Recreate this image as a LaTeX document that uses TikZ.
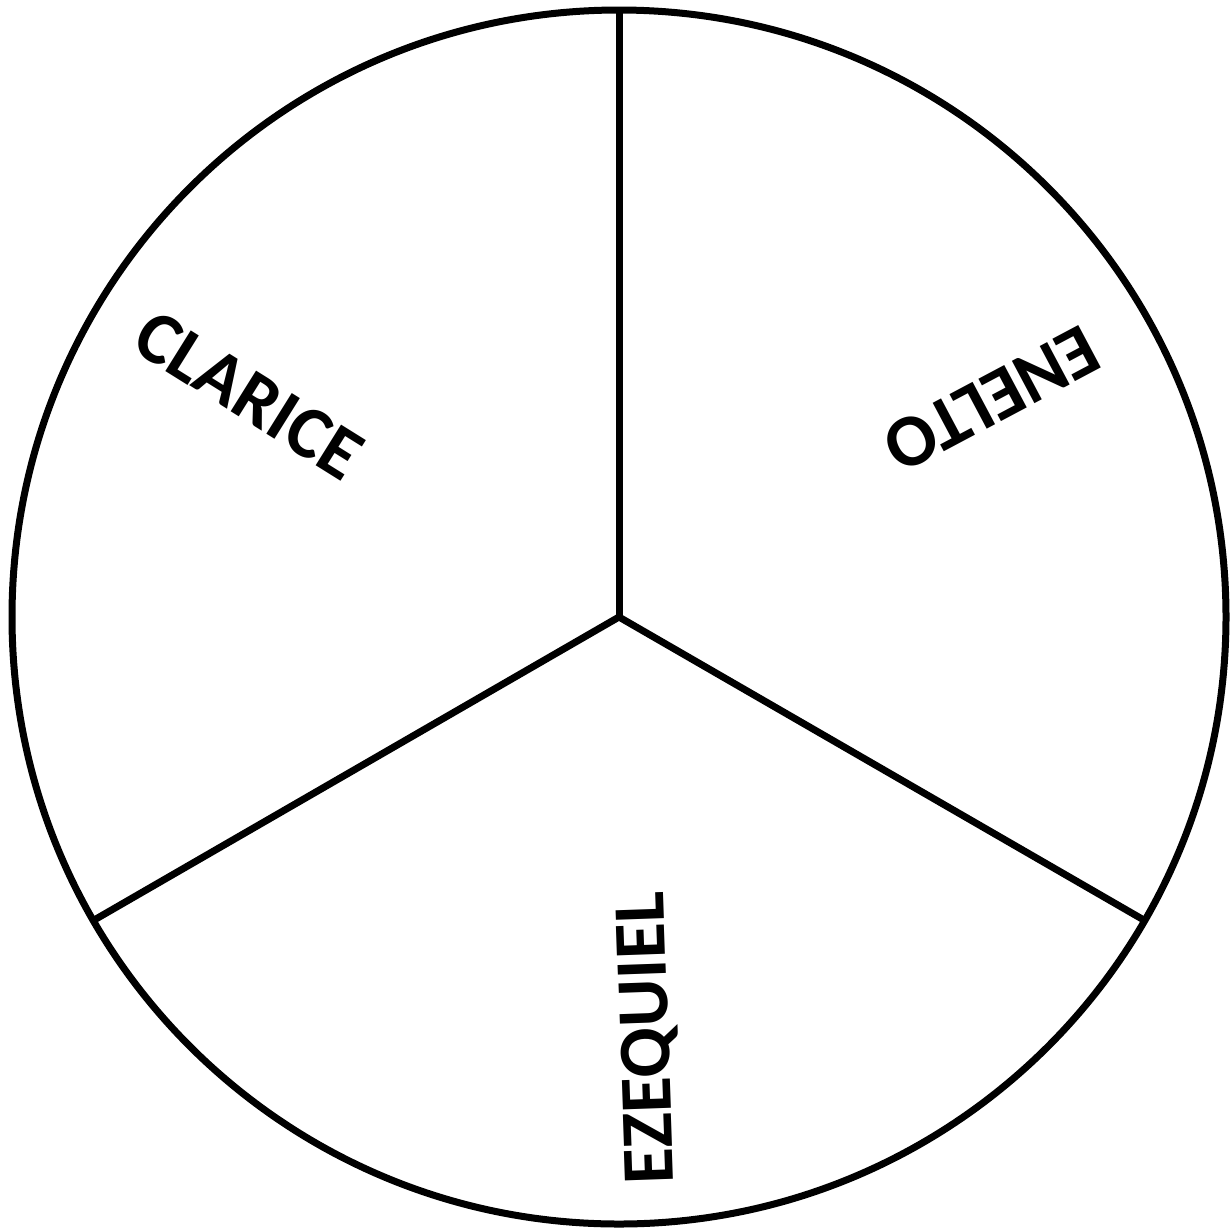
\documentclass[tikz,border=0pt]{standalone}
\usepackage{fontspec}
\setmainfont{Carlito}
\begin{document}
\begin{tikzpicture}[x=1pt,y=-1pt,
  edge/.style={line width=7pt,black},
  lbl/.style={font=\fontsize{74}{74}\selectfont\bfseries,inner sep=0pt}]
\useasboundingbox (0,0) rectangle (1231,1227);
\coordinate (c) at (619,617);
\coordinate (t) at (619,10);
\coordinate (ll) at (93.3,920.5);
\coordinate (rr) at (1144.7,920.5);
\draw[edge] (c) circle[radius=607];
\draw[edge] (c) -- (t);
\draw[edge] (c) -- (ll);
\draw[edge] (c) -- (rr);
\node[lbl,rotate=-32] (clarice) at (249,395) {CLARICE};
\node[lbl,rotate=208] (enelto) at (992,399) {ENELTO};
\node[lbl,rotate=92] (ezequiel) at (649,1038) {EZEQUIEL};
\end{tikzpicture}
\end{document}
